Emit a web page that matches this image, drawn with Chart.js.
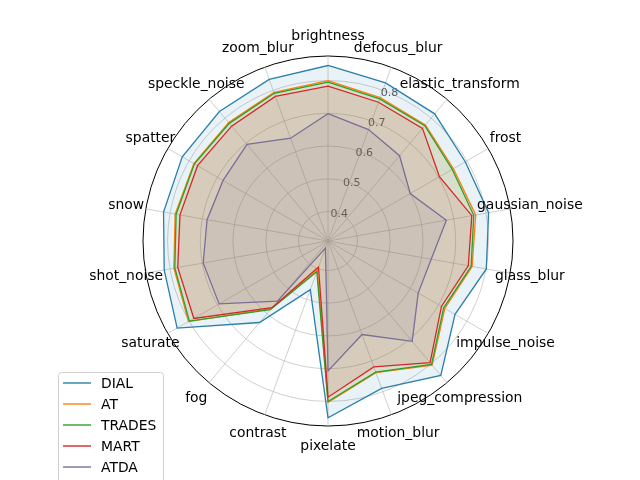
<!DOCTYPE html>
<html>
<head>
<meta charset="utf-8">
<script src="https://cdn.jsdelivr.net/npm/chart.js@4.4.0/dist/chart.umd.min.js"></script>
<style>
  html, body { margin: 0; padding: 0; background: #fff; }
  canvas { display: block; }
</style>
</head>
<body>
<canvas id="radarChart" width="640" height="480"></canvas>
<script>
const categories = ['brightness', 'defocus_blur', 'elastic_transform', 'frost', 'gaussian_noise',
  'glass_blur', 'impulse_noise', 'jpeg_compression', 'motion_blur', 'pixelate', 'contrast', 'fog',
  'saturate', 'shot_noise', 'snow', 'spatter', 'speckle_noise', 'zoom_blur'];

const seriesNames = ['DIAL', 'AT', 'TRADES', 'MART', 'ATDA'];

const dialValues   = [0.846, 0.824, 0.817, 0.794, 0.808, 0.801, 0.758, 0.846, 0.789, 0.850, 0.468, 0.635, 0.842, 0.818, 0.820, 0.824, 0.826, 0.835];
const atValues     = [0.800, 0.776, 0.773, 0.752, 0.768, 0.757, 0.722, 0.805, 0.738, 0.803, 0.405, 0.580, 0.802, 0.788, 0.784, 0.783, 0.782, 0.793];
const tradesValues = [0.795, 0.772, 0.770, 0.748, 0.762, 0.754, 0.718, 0.802, 0.736, 0.800, 0.410, 0.584, 0.799, 0.785, 0.781, 0.781, 0.779, 0.790];
const martValues   = [0.783, 0.761, 0.759, 0.703, 0.756, 0.745, 0.710, 0.795, 0.719, 0.787, 0.395, 0.576, 0.783, 0.776, 0.769, 0.770, 0.768, 0.780];
const atdaValues   = [0.699, 0.672, 0.650, 0.600, 0.677, 0.630, 0.628, 0.710, 0.614, 0.707, 0.333, 0.550, 0.694, 0.697, 0.685, 0.680, 0.695, 0.644];

const tickValues = [0.4, 0.5, 0.6, 0.7, 0.8];
const rMin = 0.31;
const rMax = 0.875;

const seriesColors = ['#2a7fab', '#ff7f0e', '#2ca02c', '#d62728', '#7a6e9a'];
const allValues = [dialValues, atValues, tradesValues, martValues, atdaValues];

function hexToRgba(hex, a) {
  const n = parseInt(hex.slice(1), 16);
  return `rgba(${(n >> 16) & 255},${(n >> 8) & 255},${n & 255},${a})`;
}

const FONT = '"DejaVu Sans", "Liberation Sans", sans-serif';

// matplotlib-like text: tick labels at 22.5deg, centred category labels, legend box
const radarText = {
  id: 'radarText',
  beforeDatasetsDraw(chart) {
    const scale = chart.scales.r;
    const ctx = chart.ctx;
    ctx.save();
    ctx.font = '11px ' + FONT;
    ctx.fillStyle = '#555';
    ctx.textAlign = 'center';
    ctx.textBaseline = 'middle';
    const ang = 22.5 * Math.PI / 180;
    tickValues.forEach(v => {
      const d = scale.getDistanceFromCenterForValue(v);
      ctx.fillText(v.toFixed(1), scale.xCenter + d * Math.sin(ang), scale.yCenter - d * Math.cos(ang));
    });
    ctx.restore();
  },
  afterDraw(chart) {
    const scale = chart.scales.r;
    const ctx = chart.ctx;
    ctx.save();
    ctx.font = '13.9px ' + FONT;
    ctx.fillStyle = '#000';
    ctx.textAlign = 'center';
    ctx.textBaseline = 'middle';
    categories.forEach((c, i) => {
      const p = scale.getPointPosition(i, scale.drawingArea + 20);
      ctx.fillText(c, p.x, p.y);
    });

    // legend
    ctx.beginPath();
    ctx.roundRect(58.5, 372.5, 105, 120, 3);
    ctx.fillStyle = 'rgba(255,255,255,0.8)';
    ctx.fill();
    ctx.strokeStyle = '#d0d0d0';
    ctx.lineWidth = 1;
    ctx.stroke();
    ctx.textAlign = 'left';
    chart.data.datasets.forEach((ds, i) => {
      const y = 383 + i * 21;
      ctx.beginPath();
      ctx.moveTo(63, y);
      ctx.lineTo(91, y);
      ctx.strokeStyle = ds.borderColor;
      ctx.lineWidth = 1.4;
      ctx.stroke();
      ctx.fillStyle = '#000';
      ctx.fillText(ds.label, 101, y + 1);
    });
    ctx.restore();
  }
};

new Chart(document.getElementById('radarChart'), {
  type: 'radar',
  data: {
    labels: categories,
    datasets: seriesNames.map((name, i) => ({
      label: name,
      data: allValues[i],
      borderColor: seriesColors[i],
      backgroundColor: hexToRgba(seriesColors[i], 0.1),
      borderWidth: 1.3,
      pointRadius: 0,
      fill: true,
      tension: 0,
      order: seriesNames.length - i
    }))
  },
  options: {
    responsive: false,
    animation: false,
    devicePixelRatio: 1,
    layout: { padding: { left: 16, right: 0, top: 56.5, bottom: 53.5 } },
    plugins: {
      legend: { display: false },
      tooltip: { enabled: false }
    },
    scales: {
      r: {
        min: rMin,
        max: rMax,
        afterBuildTicks: (scale) => {
          scale.ticks = [rMin, ...tickValues, rMax].map(v => ({ value: v }));
        },
        ticks: { display: false },
        pointLabels: { display: false },
        angleLines: { color: '#c4c4c4', lineWidth: 0.8 },
        grid: {
          circular: true,
          color: (ctx) => ctx.tick && ctx.tick.value === rMax ? '#000' : '#c4c4c4',
          lineWidth: (ctx) => ctx.tick && ctx.tick.value === rMax ? 1 : 0.8
        }
      }
    }
  },
  plugins: [radarText]
});
</script>
</body>
</html>
